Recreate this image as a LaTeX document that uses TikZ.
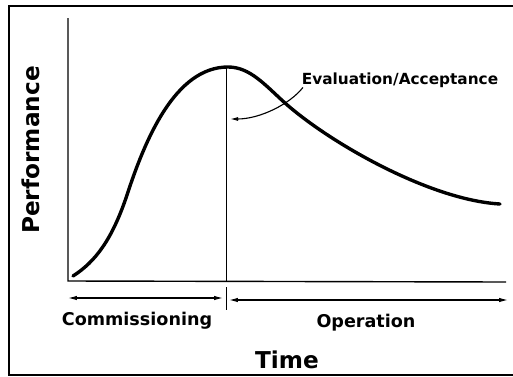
\documentclass[tikz,border=0pt]{standalone}
\usepackage{fontspec}
\setmainfont{DejaVu Sans}
\usetikzlibrary{arrows.meta}

\tikzset{
  etichetta/.style={font=\fontsize{12.5}{15}\selectfont\bfseries, inner sep=0pt},
  titolo/.style={font=\fontsize{16.5}{19}\selectfont\bfseries, inner sep=0pt},
  freccia/.style={line width=0.8pt, {Latex[length=2.2mm,width=1.1mm]}-{Latex[length=2.2mm,width=1.1mm]}},
}

\begin{document}
\begin{tikzpicture}[x=0.025cm, y=-0.025cm]
        \useasboundingbox (0,0) rectangle (513,376);
         % Cornice
        \draw[line width=1.4pt] (513,6) -- (9,6) -- (9,375) -- (513,375);

         % Assi
        \coordinate (cima) at (68,18);
        \coordinate (origine) at (68,281);
        \coordinate (fine) at (506,282);
        \draw[line width=1pt] (cima) -- (origine) -- (fine);

         % Curva delle prestazioni
        \draw[line width=2.4pt, line cap=round] (73,276) .. controls (95,262) and (112,240) .. (127,195)
            .. controls (145,140) and (175,67) .. (228,67)
            .. controls (250,67) and (265,85) .. (285,103)
            .. controls (330,143) and (430,200) .. (500,204);

         % Collaudo
        \coordinate (picco) at (226,67);
        \coordinate (base) at (226,281);
        \coordinate (tacca1) at (226,287);
        \coordinate (tacca2) at (226,310);
        \draw[line width=0.7pt] (picco) -- (base);
        \draw[line width=0.7pt] (tacca1) -- (tacca2);

         % Fasi
        \coordinate (c1) at (68,298);
        \coordinate (c2) at (223,298);
        \coordinate (o1) at (229,300);
        \coordinate (o2) at (508,300);
        \draw[freccia] (c1) -- (c2);
        \draw[freccia] (o1) -- (o2);

         % Etichette
        \node[etichetta, anchor=base] (commissioning) at (137,325) {Commissioning};
        \node[etichetta, anchor=base] (operation) at (366,327) {Operation};
        \node[titolo, anchor=base] (time) at (287,368) {Time};
        \node[titolo, anchor=base, rotate=90] (performance) at (39,150) {Performance};
        \node[etichetta, font=\fontsize{10.9}{13}\selectfont\bfseries, anchor=base] (valutazione) at (400,84) {Evaluation/Acceptance};

        \coordinate (punta) at (230,119);
        \draw[line width=0.8pt, -{Latex[length=2mm,width=1mm]}] ([xshift=1pt]valutazione.south west) .. controls (290,104) and (260,119) .. (punta);
    \end{tikzpicture}
\end{document}
